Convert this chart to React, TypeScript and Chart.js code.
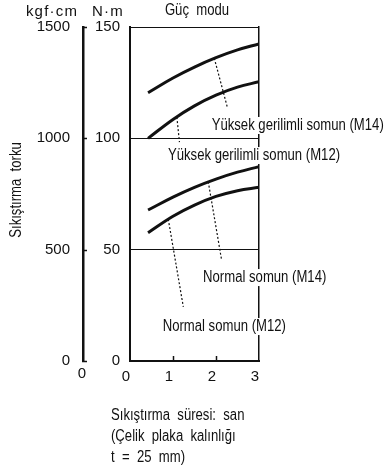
import React, { useEffect, useRef } from "react";
import { Chart, registerables } from "chart.js";

Chart.register(...registerables);

// ---- data ----
const timeTicks = [0, 1, 2, 3];
const nmTicks = [0, 50, 100, 150];
const kgfTicks = [0, 500, 1000, 1500];

const seriesX = [0.42, 1, 1.5, 2, 2.5, 3];
const highM14 = [120.5, 127.1, 132.0, 136.2, 139.7, 142.4];
const highM12 = [100, 108.5, 114.6, 119.4, 123.0, 125.4];
const normalM14 = [67.8, 73.6, 78.0, 81.7, 84.8, 87.3];
const normalM12 = [57.6, 65.0, 70.0, 73.9, 76.5, 78.0];

const labelTexts = [
  "Yüksek gerilimli somun (M14)",
  "Yüksek gerilimli somun (M12)",
  "Normal somun (M14)",
  "Normal somun (M12)",
];
// annotation anchors in data units (time s, N·m)
const leaderFromX = [1.96, 1.09, 1.82, 0.89];
const leaderFromY = [136.0, 109.5, 80.5, 63.7];
const leaderToX = [2.27, 1.15, 2.13, 1.24];
const leaderToY = [113.5, 98.3, 45.4, 24.3];
const labelX = [1.9, 0.884, 1.7, 0.76];
const labelY = [106, 92.5, 37.7, 15.7];

const captionLines = ["Sıkıştırma  süresi:  san", "(Çelik  plaka  kalınlığı", "t  =  25  mm)"];

const INK = "#111";
const REG = "'Liberation Sans', Arial, sans-serif";
const NARROW_FONT = `16px 'Liberation Sans', Arial, sans-serif`;
const SQUEEZE = 0.82;

function narrowText(ctx: CanvasRenderingContext2D, txt: string, x: number, y: number, align: CanvasTextAlign = "left") {
  ctx.save();
  ctx.font = NARROW_FONT;
  ctx.textAlign = align;
  ctx.textBaseline = "middle";
  ctx.translate(x, y);
  ctx.scale(SQUEEZE, 1);
  ctx.fillText(txt, 0, 0);
  ctx.restore();
}

const overlay = {
  id: "overlay",
  afterDatasetsDraw(chart: any) {
    const { ctx, scales } = chart;
    const x = scales.x;
    const y = scales.y;
    const yK = scales.yK;
    ctx.save();
    ctx.strokeStyle = INK;
    ctx.lineWidth = 1.5;
    // inward x ticks
    for (const t of timeTicks.slice(1, -1)) {
      const px = Math.round(x.getPixelForValue(t)) + 0.5;
      ctx.beginPath();
      ctx.moveTo(px, y.bottom);
      ctx.lineTo(px, y.bottom - 5);
      ctx.stroke();
    }
    // kgf ticks pointing right
    for (const t of kgfTicks) {
      const py = Math.round(yK.getPixelForValue(t)) + 0.5;
      ctx.beginPath();
      ctx.moveTo(yK.right - 1, py);
      ctx.lineTo(yK.right + 4, py);
      ctx.stroke();
    }
    // labels with white backgrounds
    ctx.font = NARROW_FONT;
    labelTexts.forEach((txt, i) => {
      const px = x.getPixelForValue(labelX[i]);
      const py = y.getPixelForValue(labelY[i]);
      const w = ctx.measureText(txt).width * SQUEEZE;
      ctx.fillStyle = "#fff";
      ctx.fillRect(px - 1, py - 8, w + 2, 17);
      ctx.fillStyle = INK;
      narrowText(ctx, txt, px, py + 1);
    });
    // header texts
    ctx.fillStyle = INK;
    ctx.textAlign = "center";
    ctx.textBaseline = "middle";
    ctx.font = `15px ${REG}`;
    (ctx as any).letterSpacing = "1.2px";
    ctx.fillText("kgf·cm", 52, 12);
    ctx.fillText("N·m", 108, 12);
    (ctx as any).letterSpacing = "0px";
    narrowText(ctx, "Güç  modu", 197, 11, "center");
    // extra zero under kgf axis
    ctx.font = `15px ${REG}`;
    ctx.fillText("0", yK.right - 1, 374);
    // caption
    captionLines.forEach((l, i) => narrowText(ctx, l, 111, 416 + i * 21));
    // y title
    ctx.save();
    ctx.translate(17, 190);
    ctx.rotate(-Math.PI / 2);
    narrowText(ctx, "Sıkıştırma  torku", 0, 0, "center");
    ctx.restore();
    ctx.restore();
  },
};

export default function App() {
  const ref = useRef<HTMLCanvasElement>(null);
  useEffect(() => {
    const mk = (vals: number[]) => seriesX.map((v, i) => ({ x: v, y: vals[i] }));
    const curve = (label: string, vals: number[]) => ({
      label,
      data: mk(vals),
      borderColor: INK,
      borderWidth: 3,
      pointRadius: 0,
      tension: 0.4,
      fill: false,
    });
    const leaders = labelTexts.map((t, i) => ({
      label: "leader " + t,
      data: [
        { x: leaderFromX[i], y: leaderFromY[i] },
        { x: leaderToX[i], y: leaderToY[i] },
      ],
      borderColor: INK,
      borderWidth: 1.2,
      borderDash: [2, 2],
      pointRadius: 0,
      tension: 0,
      fill: false,
    }));
    const plain = (v: any) => String(v);
    const chart = new Chart(ref.current!, {
      type: "line",
      data: {
        datasets: [
          curve(labelTexts[0], highM14),
          curve(labelTexts[1], highM12),
          curve(labelTexts[2], normalM14),
          curve(labelTexts[3], normalM12),
          ...leaders,
        ],
      },
      options: {
        animation: false,
        responsive: false,
        layout: { padding: { left: 0, top: 27, right: 128, bottom: 79 } },
        plugins: { legend: { display: false }, tooltip: { enabled: false } },
        scales: {
          x: {
            type: "linear",
            min: 0,
            max: 3,
            afterBuildTicks: (s: any) => {
              s.ticks = timeTicks.map((v) => ({ value: v }));
            },
            afterFit: (s: any) => {
              s.height = 30;
            },
            ticks: { color: INK, font: { size: 15, family: REG }, padding: 7, align: "end", callback: plain },
            grid: { display: false, drawTicks: false },
            border: { display: true, color: INK, width: 2 },
          },
          y: {
            type: "linear",
            position: "left",
            min: 0,
            max: 150,
            weight: 0,
            afterBuildTicks: (s: any) => {
              s.ticks = nmTicks.map((v) => ({ value: v }));
            },
            afterFit: (s: any) => {
              s.width = 47;
            },
            ticks: { color: INK, font: { size: 15, family: REG }, padding: 10, callback: plain },
            grid: { display: true, color: INK, lineWidth: 1, drawTicks: false },
            border: { display: true, color: INK, width: 2 },
          },
          yK: {
            type: "linear",
            position: "left",
            min: 0,
            max: 1500,
            weight: 1,
            afterBuildTicks: (s: any) => {
              s.ticks = kgfTicks.map((v) => ({ value: v }));
            },
            afterFit: (s: any) => {
              s.width = 83;
            },
            ticks: { color: INK, font: { size: 15, family: REG }, padding: 13, callback: plain },
            grid: { display: false, drawTicks: false },
            border: { display: true, color: INK, width: 2.5 },
          },
          y2: {
            type: "linear",
            position: "right",
            min: 0,
            max: 150,
            afterFit: (s: any) => {
              s.width = 0;
            },
            ticks: { display: false },
            grid: { display: false, drawTicks: false },
            border: { display: true, color: INK, width: 1.5 },
          },
        },
      },
      plugins: [overlay],
    });
    return () => chart.destroy();
  }, []);
  return (
    <div style={{ position: "absolute", left: 0, top: 0, width: 387, height: 470, background: "#fff" }}>
      <canvas ref={ref} width={387} height={470} />
    </div>
  );
}
